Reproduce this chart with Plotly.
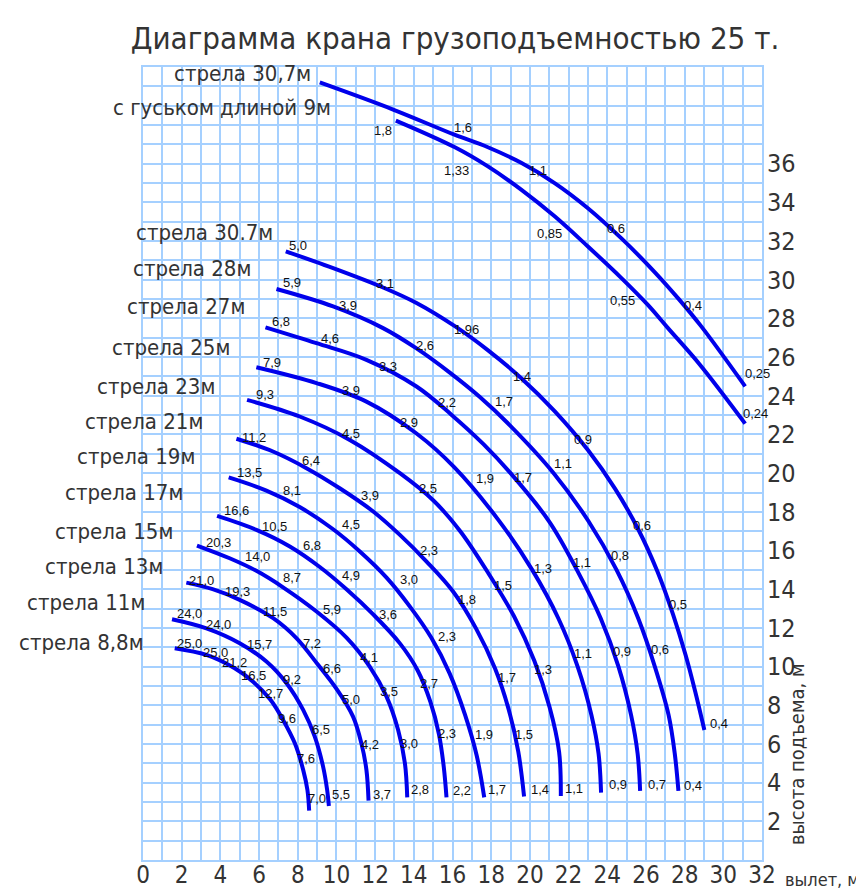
import plotly.graph_objects as go

# ---------------- data: load chart curves (radius, m ; hook height, m) ----------------
jib_upper_r = [9.14, 12.93, 16.1, 17.83, 19.55, 21.28, 23.0, 24.72, 26.45, 27.7, 28.86, 31.13]
jib_upper_h = [40.2, 38.8, 37.5, 36.85, 36.05, 35.0, 33.7, 32.15, 30.4, 29.0, 27.59, 24.49]

jib_lower_r = [13.07, 16.1, 17.83, 19.55, 21.28, 23.0, 24.72, 26.1, 27.14, 28.79, 31.13]
jib_lower_h = [38.23, 36.86, 35.86, 34.66, 33.28, 31.72, 30.1, 28.7, 27.5, 25.61, 22.56]

boom_307_r = [7.38, 9.83, 12.41, 14.14, 16.12, 17.84, 19.57, 21.29, 23.0, 24.4, 25.6, 26.6, 27.4, 28.05, 28.55, 29.02]
boom_307_h = [31.47, 30.6, 29.6, 28.8, 27.6, 26.35, 24.9, 23.2, 21.2, 19.2, 17.1, 14.9, 12.7, 10.6, 8.7, 6.72]

boom_28_r = [6.9, 9.83, 12.41, 14.14, 15.86, 17.4, 18.94, 21.23, 23.04, 24.48, 25.6, 26.46, 27.17, 27.49, 27.68]
boom_28_h = [29.52, 28.62, 27.5, 26.45, 25.2, 23.95, 22.5, 20.0, 17.5, 15.0, 12.5, 10.0, 7.5, 5.5, 3.57]

boom_27_r = [6.33, 8.97, 11.55, 14.14, 15.97, 17.6, 19.0, 21.0, 22.43, 23.66, 24.58, 25.23, 25.57, 25.7]
boom_27_h = [27.54, 26.72, 25.86, 24.48, 23.0, 21.5, 20.0, 17.5, 15.0, 12.5, 10.0, 7.5, 5.5, 3.57]

boom_25_r = [5.86, 8.97, 11.55, 14.14, 16.1, 18.36, 20.12, 21.47, 22.47, 23.18, 23.55, 23.68]
boom_25_h = [25.48, 24.66, 23.7, 22.05, 20.3, 17.6, 15.0, 12.5, 10.0, 7.5, 5.5, 3.48]

boom_23_r = [5.38, 8.1, 10.69, 13.28, 15.0, 16.4, 17.87, 19.18, 20.23, 21.02, 21.51, 21.6]
boom_23_h = [23.79, 22.93, 21.72, 20.0, 18.6, 17.0, 14.8, 12.6, 10.3, 7.9, 5.6, 3.31]

boom_21_r = [4.83, 6.72, 8.45, 10.17, 11.9, 13.28, 14.66, 16.03, 17.2, 18.2, 18.9, 19.4, 19.7]
boom_21_h = [21.78, 21.12, 20.26, 19.22, 18.02, 16.81, 15.43, 13.88, 12.0, 9.9, 7.8, 5.6, 3.28]

boom_19_r = [4.43, 6.38, 8.1, 9.83, 11.21, 12.59, 13.8, 14.9, 15.85, 16.65, 17.25, 17.64]
boom_19_h = [19.78, 19.1, 18.25, 17.1, 15.95, 14.6, 13.1, 11.5, 9.65, 7.5, 5.4, 3.24]

boom_17_r = [3.83, 5.86, 7.59, 9.14, 10.52, 11.9, 13.28, 14.2, 14.85, 15.3, 15.55, 15.69]
boom_17_h = [17.79, 17.07, 16.21, 15.15, 14.0, 12.7, 11.2, 9.8, 8.2, 6.5, 4.8, 3.24]

boom_15_r = [2.79, 4.48, 5.86, 7.24, 8.97, 10.52, 11.72, 12.59, 13.19, 13.54, 13.66]
boom_15_h = [16.26, 15.6, 14.95, 14.1, 12.85, 11.5, 10.0, 8.45, 6.72, 5.0, 3.24]

boom_13_r = [2.24, 3.6, 5.0, 6.73, 7.93, 9.05, 10.04, 10.86, 11.29, 11.55, 11.66]
boom_13_h = [14.34, 14.0, 13.45, 12.5, 11.47, 10.09, 8.79, 7.41, 6.03, 4.66, 3.07]

boom_11_r = [1.50, 3.28, 5.0, 6.38, 7.42, 8.28, 8.88, 9.31, 9.52, 9.61]
boom_11_h = [12.45, 11.98, 11.21, 10.26, 9.14, 7.76, 6.38, 4.83, 3.62, 2.79]

boom_88_r = [1.64, 3.28, 4.74, 5.69, 6.59, 7.24, 7.85, 8.28, 8.50, 8.59]
boom_88_h = [10.95, 10.60, 9.91, 9.22, 8.28, 7.24, 6.03, 4.66, 3.62, 2.55]

curves_r = [jib_upper_r, jib_lower_r, boom_307_r, boom_28_r, boom_27_r, boom_25_r, boom_23_r,
            boom_21_r, boom_19_r, boom_17_r, boom_15_r, boom_13_r, boom_11_r, boom_88_r]
curves_h = [jib_upper_h, jib_lower_h, boom_307_h, boom_28_h, boom_27_h, boom_25_h, boom_23_h,
            boom_21_h, boom_19_h, boom_17_h, boom_15_h, boom_13_h, boom_11_h, boom_88_h]

# ---------------- data: load values (t) written along the curves ----------------
load_text = [
    "1,6", "1,1", "0,6", "0,4", "0,25",
    "1,8", "1,33", "0,85", "0,55", "0,24",
    "5,0", "3,1", "1,96", "1,4", "0,9", "0,6", "0,5", "0,4",
    "5,9", "3,9", "2,6", "1,7", "1,1", "0,8", "0,6", "0,4",
    "6,8", "4,6", "3,3", "2,2", "1,7", "1,1", "0,9", "0,7",
    "7,9", "3,9", "2,9", "1,9", "1,3", "1,1", "0,9",
    "9,3", "4,5", "2,5", "1,5", "1,3", "1,1",
    "11,2", "6,4", "3,9", "2,3", "1,8", "1,7", "1,5", "1,4",
    "13,5", "8,1", "4,5", "3,0", "2,3", "1,9", "1,7",
    "16,6", "10,5", "6,8", "4,9", "3,6", "2,7", "2,3", "2,2",
    "20,3", "14,0", "8,7", "5,9", "4,1", "3,5", "3,0", "2,8",
    "21,0", "19,3", "11,5", "7,2", "6,6", "5,0", "4,2", "3,7",
    "24,0", "24,0", "15,7", "9,2", "6,5", "5,5",
    "25,0", "25,0", "21,2", "16,5", "12,7", "9,6", "7,6", "7,0",
]
load_r = [
    16.55, 20.43, 24.45, 28.45, 31.76,
    12.42, 16.21, 21.04, 24.80, 31.64,
    8.02, 12.50, 16.73, 19.58, 22.76, 25.78, 27.65, 29.80,
    7.68, 10.61, 14.57, 18.68, 21.73, 24.66, 26.73, 28.45,
    7.12, 9.69, 12.67, 15.73, 19.66, 22.68, 24.75, 26.56,
    6.69, 10.73, 13.76, 17.68, 20.69, 22.76, 24.54,
    6.30, 10.73, 14.71, 18.62, 20.69, 22.28,
    5.73, 8.71, 11.73, 14.76, 16.73, 18.80, 19.71, 20.52,
    5.48, 7.68, 10.73, 13.76, 15.73, 17.64, 18.28,
    4.83, 6.81, 8.76, 10.73, 12.67, 14.80, 15.73, 16.47,
    3.88, 5.90, 7.68, 9.75, 11.69, 12.73, 13.76, 14.31,
    3.02, 4.88, 6.81, 8.76, 9.75, 10.73, 11.73, 12.36,
    2.42, 3.88, 6.00, 7.71, 9.19, 10.26,
    2.42, 3.76, 4.74, 5.69, 6.59, 7.42, 8.45, 8.97,
]
load_h = [
    37.85, 35.64, 32.63, 28.68, 25.14,
    37.73, 35.64, 32.39, 28.93, 23.11,
    31.76, 29.83, 27.42, 25.0, 21.73, 17.28, 13.19, 7.07,
    29.87, 28.66, 26.61, 23.71, 20.52, 15.73, 10.90, 3.83,
    27.85, 26.95, 25.52, 23.63, 19.78, 15.40, 10.78, 3.88,
    25.73, 24.26, 22.64, 19.71, 15.09, 10.69, 3.88,
    24.06, 22.07, 19.19, 14.17, 9.83, 3.71,
    21.87, 20.64, 18.85, 16.0, 13.45, 9.45, 6.47, 3.66,
    20.01, 19.09, 17.33, 14.52, 11.55, 6.47, 3.66,
    18.05, 17.24, 16.26, 14.71, 12.67, 9.14, 6.52, 3.57,
    16.44, 15.69, 14.63, 12.93, 10.47, 8.71, 6.04, 3.62,
    14.45, 13.88, 12.85, 11.21, 9.92, 8.28, 5.95, 3.41,
    12.73, 12.16, 11.12, 9.31, 6.73, 3.41,
    11.21, 10.72, 10.21, 9.52, 8.59, 7.33, 5.26, 3.19,
]

# ---------------- data: boom names (text, right end of label, level) ----------------
boom_names = ["стрела 30,7м", "с гуськом длиной 9м", "стрела 30.7м", "стрела 28м", "стрела 27м",
              "стрела 25м", "стрела 23м", "стрела 21м", "стрела 19м", "стрела 17м",
              "стрела 15м", "стрела 13м", "стрела 11м", "стрела 8,8м"]
name_r = [8.79, 9.80, 6.81, 5.67, 5.36, 4.59, 3.81, 3.19, 2.78, 2.16, 1.64, 1.12, 0.19, 0.14]
name_h = [40.66, 38.89, 32.44, 30.57, 28.61, 26.49, 24.47, 22.66, 20.85, 18.99, 16.97, 15.16, 13.30, 11.23]

x_ticks = list(range(0, 33, 2))
y_ticks = list(range(2, 37, 2))

TITLE = "Диаграмма крана грузоподъемностью 25 т."
X_TITLE = "вылет, м"
Y_TITLE = "высота подъема, м"

# ---------------- styles ----------------
FONT = "Liberation Sans Narrow, DejaVu Sans Condensed, Liberation Sans, sans-serif"
TEXT_COLOR = "#333333"
GRID = "rgb(165,208,255)"
CURVE = "rgb(0,0,235)"

fig = go.Figure()
for rr, hh in zip(curves_r, curves_h):
    fig.add_trace(go.Scatter(x=rr, y=hh, mode="lines",
                             line=dict(color=CURVE, width=4, shape="spline", smoothing=1.0),
                             hoverinfo="skip", showlegend=False))

annotations = []
for t, xr, yh in zip(load_text, load_r, load_h):
    annotations.append(dict(x=xr, y=yh, xref="x", yref="y", text=t, showarrow=False,
                            xanchor="center", yanchor="middle",
                            font=dict(family="Liberation Sans, sans-serif", size=13, color="#111111")))
for t, xr, yh in zip(boom_names, name_r, name_h):
    annotations.append(dict(x=xr, y=yh, xref="x", yref="y", text=t, showarrow=False,
                            xanchor="right", yanchor="middle",
                            font=dict(family=FONT, size=22, color=TEXT_COLOR)))
annotations.append(dict(x=1.034, y=-0.0252, xref="paper", yref="paper", text=X_TITLE, showarrow=False,
                        xanchor="left", yanchor="middle",
                        font=dict(family=FONT, size=18, color=TEXT_COLOR)))
annotations.append(dict(x=1.0566, y=0.1337, xref="paper", yref="paper", text=Y_TITLE, showarrow=False,
                        textangle=-90, xanchor="center", yanchor="middle",
                        font=dict(family=FONT, size=20, color=TEXT_COLOR)))

# the page adds an 8 px body margin, so the figure is sized 856 x 883
fig.update_layout(
    width=856, height=883,
    margin=dict(l=135, r=102, t=59, b=31, autoexpand=False),
    paper_bgcolor="white", plot_bgcolor="white",
    title=dict(text=TITLE, x=447 / 856, y=1 - 30 / 883, xref="container", yref="container",
               xanchor="center", yanchor="middle",
               font=dict(family=FONT, size=31, color=TEXT_COLOR)),
    annotations=annotations,
    showlegend=False,
)
fig.update_xaxes(range=[0, 32], tickvals=x_ticks, ticktext=[str(v) for v in x_ticks],
                 showgrid=True, gridcolor=GRID, gridwidth=1.5, zeroline=False,
                 showline=True, linecolor=GRID, linewidth=2, mirror=True,
                 minor=dict(dtick=1, tick0=0, showgrid=True, gridcolor=GRID, gridwidth=1.5),
                 ticks="", ticklabelstandoff=-8,
                 tickfont=dict(family=FONT, size=24, color=TEXT_COLOR))
fig.update_yaxes(range=[0, 41], side="right", tickvals=y_ticks, ticktext=[str(v) for v in y_ticks],
                 showgrid=True, gridcolor=GRID, gridwidth=1.5, zeroline=False,
                 showline=True, linecolor=GRID, linewidth=2, mirror=True,
                 minor=dict(dtick=1, tick0=0, showgrid=True, gridcolor=GRID, gridwidth=1.5),
                 ticks="", ticklabelstandoff=-2,
                 tickfont=dict(family=FONT, size=25, color=TEXT_COLOR))

fig.write_html("out.html")
